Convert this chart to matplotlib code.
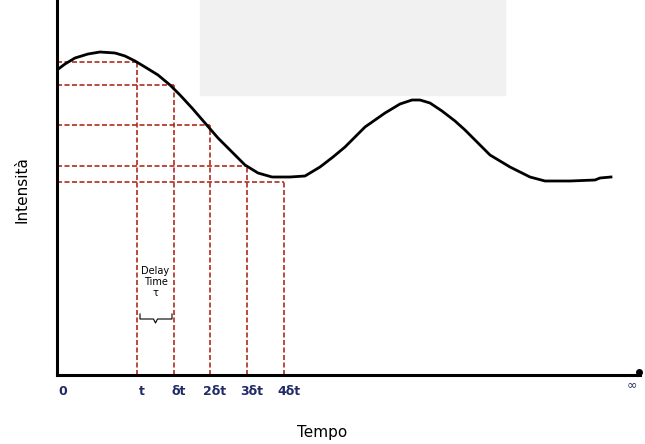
import matplotlib.pyplot as plt
from matplotlib.patches import Rectangle

# curve (time, intensity), arbitrary units
curve_t = [0.0, 0.8, 1.8, 3.1, 4.3, 5.8, 6.8, 7.8, 8.8, 10.1, 11.3, 12.3, 13.5, 14.8,
           16.1, 17.3, 18.8, 20.1, 21.5, 23.3, 24.8, 26.3, 27.6, 28.8, 29.8, 30.8,
           31.8, 32.8, 34.3, 35.5, 36.3, 37.3, 38.5, 39.8, 40.8, 41.8, 42.6, 43.3,
           44.3, 45.3, 46.3, 47.3, 48.8, 51.3, 53.8, 54.3, 55.4]
curve_i = [30.5, 31.1, 31.7, 32.1, 32.3, 32.2, 31.9, 31.4, 30.8, 30.0, 29.0, 28.0,
           26.7, 25.2, 23.7, 22.5, 21.0, 20.2, 19.8, 19.8, 19.9, 20.8, 21.8, 22.8,
           23.8, 24.8, 25.5, 26.2, 27.1, 27.5, 27.5, 27.2, 26.4, 25.4, 24.5, 23.5,
           22.7, 22.0, 21.4, 20.8, 20.3, 19.8, 19.4, 19.4, 19.5, 19.7, 19.8]

# sampling instants t, δt, 2δt, 3δt, 4δt and the intensity read at each
sample_t = [8.0, 11.7, 15.3, 19.0, 22.7]
sample_i = [31.3, 29.0, 25.0, 20.9, 19.3]
tick_labels = ['t', 'δt', '2δt', '3δt', '4δt']

fig = plt.figure(figsize=(6.45, 4.44), dpi=100)
ax = fig.add_axes([57 / 645, 69 / 444, 583 / 645, 375 / 444])
ax.set_xlim(0, 58.3)
ax.set_ylim(0, 37.5)

# grey smudge of the scanned page
fig.patches.append(Rectangle((200 / 645, 1 - 95 / 444), 305 / 645, 95 / 444,
                             transform=fig.transFigure, color='#f1f1f1', zorder=0))
ax.patch.set_alpha(0)

red = '#b22a1e'
for t, i in zip(sample_t, sample_i):
    ax.plot([0, t], [i, i], ls=(0, (3, 1.5)), color=red, lw=1.2, zorder=1)
    ax.plot([t, t], [0, i], ls=(0, (3, 1.5)), color=red, lw=1.2, zorder=1)

ax.plot(curve_t, curve_i, color='black', lw=2, zorder=3)

for s in ['top', 'right']:
    ax.spines[s].set_visible(False)
ax.spines['left'].set_linewidth(2.2)
ax.spines['bottom'].set_linewidth(2.2)
ax.plot([58.2], [0.3], 'o', color='black', ms=4, clip_on=False)
ax.set_xticks([])
ax.set_yticks([])

lab_col = '#1f2a66'
ax.text(0.6, -1.0, '0', ha='center', va='top', fontsize=9, fontweight='bold', color=lab_col)
for t, lab in zip(sample_t, tick_labels):
    ax.text(t + 0.5, -1.0, lab, ha='center', va='top', fontsize=9,
            fontweight='bold', color=lab_col)
ax.text(57.5, -0.3, '∞', ha='center', va='top', fontsize=9, color=lab_col)

# "Delay Time" note with a brace spanning t .. δt
t0, t1 = sample_t[0], sample_t[1]
mid = (t0 + t1) / 2
ax.text(mid, 9.3, 'Delay\nTime\nτ', ha='center', va='center', fontsize=7, linespacing=1.15)
yb = 5.6
ax.plot([t0 + 0.3, t0 + 0.3, mid - 0.2, mid, mid + 0.2, t1 - 0.2, t1 - 0.2],
        [yb + 0.5, yb, yb, yb - 0.4, yb, yb, yb + 0.5], color='black', lw=0.8)

fig.text(22 / 645, 1 - 190 / 444, 'Intensità', rotation=90, ha='center', va='center',
         fontsize=11)
fig.text(322 / 645, 1 - 432 / 444, 'Tempo', ha='center', va='center', fontsize=11)

fig.savefig('out.png', dpi=100)
